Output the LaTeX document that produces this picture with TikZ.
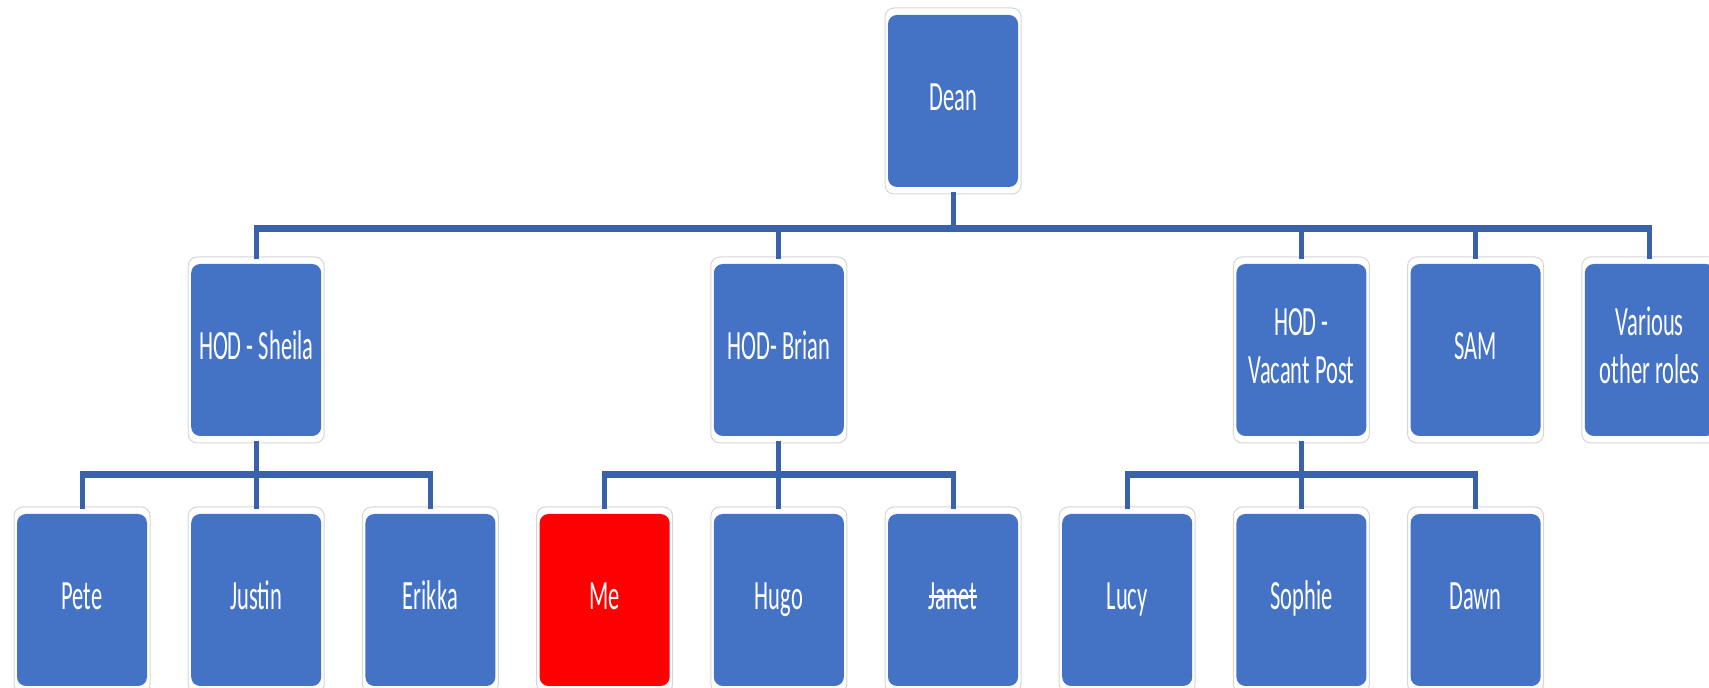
\documentclass[tikz,border=0pt]{standalone}
\usepackage{fontspec}
\setmainfont{Carlito}
\usepackage{graphicx}

\definecolor{boxblue}{HTML}{4472C4}
\definecolor{linkblue}{HTML}{3A62AA}
\definecolor{alertred}{HTML}{FF0000}

% tall, narrow lettering used on every card
\newcommand{\cardtext}[1]{\scalebox{1}[1.85]{\begin{tabular}{@{}c@{}}#1\end{tabular}}}
% struck-through name
\newcommand{\struck}[1]{\setbox0=\hbox{#1}\rlap{\rule[0.27em]{\wd0}{0.07em}}\box0}

\tikzset{
  card/.style={
    rounded corners=9pt, draw=gray!32, line width=1pt, fill=white,
    minimum width=136pt, minimum height=186pt, inner sep=0pt,
    text=white, font=\fontsize{22.5}{26}\selectfont,
    path picture={
      \fill[#1, rounded corners=9pt]
        ([xshift=3pt,yshift=-7pt]path picture bounding box.north west)
        rectangle
        ([xshift=-3pt,yshift=7pt]path picture bounding box.south east);
    }
  },
  card/.default=boxblue,
  link/.style={draw=linkblue, line width=5pt, line cap=rect},
  bar/.style={draw=linkblue, line width=7pt, line cap=butt}
}

\begin{document}
\begin{tikzpicture}[x=1pt,y=1pt]
  \useasboundingbox (0,0) rectangle (1709,688);

  % top level
  \node[card] (dean) at (953,587) {\cardtext{Dean}};

  % heads of department and other roles
  \node[card] (sheila)  at (256.2,338)  {\cardtext{HOD - Sheila}};
  \node[card] (brian)   at (778.8,338)  {\cardtext{HOD- Brian}};
  \node[card] (vacant)  at (1301.4,338) {\cardtext{HOD -\\Vacant Post}};
  \node[card] (sam)     at (1475.6,338) {\cardtext{SAM}};
  \node[card] (various) at (1649.8,338) {\cardtext{Various\\other roles}};

  % staff
  \node[card] (pete)   at (82,88)     {\cardtext{Pete}};
  \node[card] (justin) at (256.2,88)  {\cardtext{Justin}};
  \node[card] (erikka) at (430.4,88)  {\cardtext{Erikka}};
  \node[card=alertred] (me) at (604.6,88) {\cardtext{Me}};
  \node[card] (hugo)   at (778.8,88)  {\cardtext{Hugo}};
  \node[card] (janet)  at (953,88)    {\cardtext{\struck{Janet}}};
  \node[card] (lucy)   at (1127.2,88) {\cardtext{Lucy}};
  \node[card] (sophie) at (1301.4,88) {\cardtext{Sophie}};
  \node[card] (dawn)   at (1475.6,88) {\cardtext{Dawn}};

  % heights of the horizontal bus lines
  \coordinate (deanbus)   at ([yshift=-34pt]dean.south);
  \coordinate (sheilabus) at ([yshift=-31pt]sheila.south);
  \coordinate (brianbus)  at ([yshift=-31pt]brian.south);
  \coordinate (vacantbus) at ([yshift=-31pt]vacant.south);

  % connectors: dean to the second row
  \foreach \c in {sheila,brian,vacant,sam,various}
    \draw[link] (dean.south) -- (deanbus) -| (\c.north);
  \draw[bar] ([xshift=-2.5pt]sheila.north |- deanbus) -- ([xshift=2.5pt]various.north |- deanbus);

  % connectors: heads of department to their staff
  \foreach \c in {pete,justin,erikka}
    \draw[link] (sheila.south) -- (sheilabus) -| (\c.north);
  \draw[bar] ([xshift=-2.5pt]pete.north |- sheilabus) -- ([xshift=2.5pt]erikka.north |- sheilabus);
  \foreach \c in {me,hugo,janet}
    \draw[link] (brian.south) -- (brianbus) -| (\c.north);
  \draw[bar] ([xshift=-2.5pt]me.north |- brianbus) -- ([xshift=2.5pt]janet.north |- brianbus);
  \foreach \c in {lucy,sophie,dawn}
    \draw[link] (vacant.south) -- (vacantbus) -| (\c.north);
  \draw[bar] ([xshift=-2.5pt]lucy.north |- vacantbus) -- ([xshift=2.5pt]dawn.north |- vacantbus);
\end{tikzpicture}
\end{document}
